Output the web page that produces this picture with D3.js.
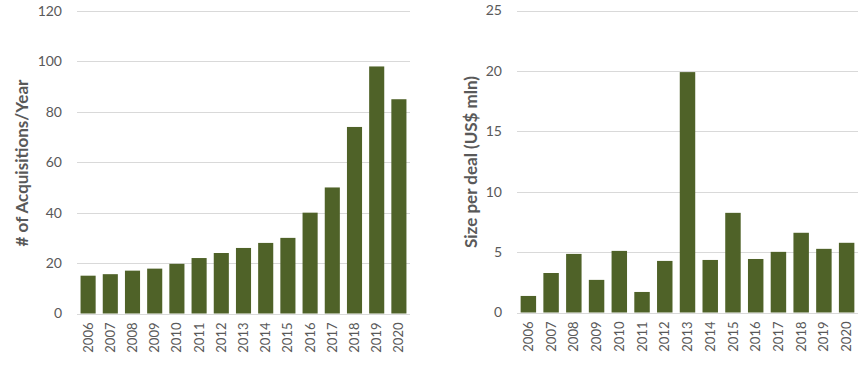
<!DOCTYPE html>
<html>
<head>
<meta charset="utf-8">
<script src="https://cdn.jsdelivr.net/npm/d3@7"></script>
<style>
  body { margin: 0; background: #fff; }
  text { font-family: Lato, "Open Sans", sans-serif; fill: #595959; }
</style>
</head>
<body>
<svg id="chart" width="868" height="366"></svg>
<script>
// data
const years = ["2006","2007","2008","2009","2010","2011","2012","2013","2014","2015","2016","2017","2018","2019","2020"]
const acquisitions = [15, 15.6, 17, 17.8, 19.7, 22, 24, 26, 28, 30, 40, 50, 74, 98, 85]
const dealSize = [1.37, 3.27, 4.85, 2.7, 5.1, 1.7, 4.27, 19.9, 4.35, 8.25, 4.43, 5.02, 6.6, 5.27, 5.77]
const leftTicks = [0, 20, 40, 60, 80, 100, 120]
const rightTicks = [0, 5, 10, 15, 20, 25]

let svg = d3.select("#chart")
const barColor = "#4f6228"
const gridColor = "#d9d9d9"

function drawPanel(opts) {
    let g = svg.append("g")

    let x = d3.scaleBand().domain(years).range([opts.x0, opts.x1]).paddingInner(0.32).paddingOuter(0.16)
    let y = d3.scaleLinear().domain([0, opts.max]).range([opts.y0, opts.y1])

    // gridlines
    g.selectAll("line.grid")
        .data(opts.ticks)
        .join("line")
        .attr("class", "grid")
        .attr("x1", opts.x0).attr("x2", opts.x1)
        .attr("y1", d => Math.round(y(d)) + 0.5)
        .attr("y2", d => Math.round(y(d)) + 0.5)
        .attr("stroke", gridColor)
        .attr("stroke-width", 1)

    // y tick labels
    g.selectAll("text.ytick")
        .data(opts.ticks)
        .join("text")
        .attr("class", "ytick")
        .attr("x", opts.x0 - 15)
        .attr("y", d => y(d))
        .attr("dy", "0.35em")
        .attr("text-anchor", "end")
        .attr("font-size", 14)
        .text(d => d)

    // bars
    g.selectAll("rect")
        .data(opts.values)
        .join("rect")
        .attr("x", (d, i) => x(years[i]))
        .attr("width", x.bandwidth())
        .attr("y", d => y(d))
        .attr("height", d => y(0) - y(d))
        .attr("fill", barColor)

    // x labels
    g.selectAll("text.xtick")
        .data(years)
        .join("text")
        .attr("class", "xtick")
        .attr("transform", d => `translate(${x(d) + x.bandwidth() / 2},${opts.y0 + 9}) rotate(-90)`)
        .attr("text-anchor", "end")
        .attr("dy", "0.35em")
        .attr("font-size", 13)
        .text(d => d)

    // axis title
    g.append("text")
        .attr("transform", `translate(${opts.titleX},${opts.titleY}) rotate(-90)`)
        .attr("text-anchor", "middle")
        .attr("font-size", 17)
        .attr("font-weight", "bold")
        .text(opts.title)
}

drawPanel({ x0: 77, x1: 410, y0: 313.5, y1: 11, max: 120, ticks: leftTicks, values: acquisitions, title: "# of Acquisitions/Year", titleX: 28, titleY: 163 })
drawPanel({ x0: 517, x1: 858, y0: 312.5, y1: 10.5, max: 25, ticks: rightTicks, values: dealSize, title: "Size per deal (US$ mln)", titleX: 477, titleY: 162 })
</script>
</body>
</html>
